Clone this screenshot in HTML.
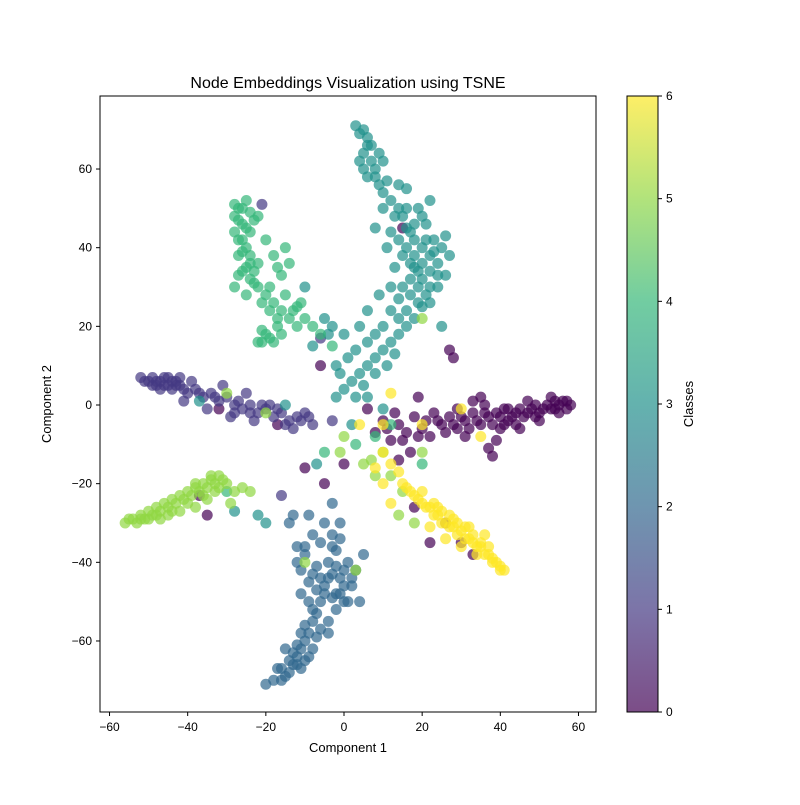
<!DOCTYPE html>
<html><head><meta charset="utf-8"><style>
body{margin:0;background:#fff;font-family:"Liberation Sans",sans-serif}
</style></head><body>
<svg id="chart" width="800" height="800" xmlns="http://www.w3.org/2000/svg">
<defs><linearGradient id="vir" x1="0" y1="1" x2="0" y2="0">
<stop offset="0" stop-color="#440154"/><stop offset="0.1667" stop-color="#443983"/><stop offset="0.3333" stop-color="#31688e"/><stop offset="0.5" stop-color="#21918c"/><stop offset="0.6667" stop-color="#35b779"/><stop offset="0.8333" stop-color="#90d743"/><stop offset="1" stop-color="#fde725"/></linearGradient></defs>
<text x="348" y="88" font-size="16" text-anchor="middle">Node Embeddings Visualization using TSNE</text>
<g id="points"></g>
<rect x="100" y="96" width="496" height="616" fill="none" stroke="#000" stroke-width="1"/>
<g id="xticks"></g>
<g id="yticks"></g>
<text x="348" y="752" font-size="13" text-anchor="middle">Component 1</text>
<text x="0" y="0" font-size="13" text-anchor="middle" transform="translate(51,404) rotate(-90)">Component 2</text>
<rect x="627" y="96" width="31" height="616" fill="url(#vir)" opacity="0.7"/>
<rect x="627" y="96" width="31" height="616" fill="none" stroke="#000"/>
<g id="cbticks"></g>
<text x="0" y="0" font-size="13" text-anchor="middle" transform="translate(693,404) rotate(-90)">Classes</text>
</svg>
<script>
const xTicks=[-60,-40,-20,0,20,40,60];
const yTicks=[-60,-40,-20,0,20,40,60];
const cbTicks=[0,1,2,3,4,5,6];
const classColors=["#440154","#443983","#31688e","#21918c","#35b779","#90d743","#fde725"];
const class0=[[58,0],[56,1],[54,-1],[52,0],[50,-2],[48,-1],[46,-3],[44,-2],[42,-4],[40,-3],[38,-5],[36,-2],[34,-4],[32,-6],[30,-3],[28,-5],[26,-7],[24,-4],[22,-8],[20,-6],[18,-3],[16,-7],[14,-5],[12,-9],[10,-4],[55,-2],[47,1],[41,-1],[35,2],[29,-1],[23,-2],[19,2],[17,-12],[14,-14],[8,-7],[6,-1],[37,-11],[38,-13],[39,-9],[28,12],[27,14],[15,45],[30,-35],[22,-35],[-17,-5],[-32,-1],[-10,-16],[-5,-20],[0,-15],[-37,-23],[-35,-28],[-6,10],[18,-26],[26,-30],[33,-38],[45,-6],[50,-4],[53,2],[57,-1],[31,-8],
[57,1],[55,0],[53,-1],[51,-1],[49,0],[47,-2],[45,-1],[43,-3],[41,-5],[39,-2],[37,-3],[35,-5],[33,-2],[31,-4],[29,-6],[27,-3],[25,-5],[21,-4],[19,-8],[15,-9],[13,-2],[11,-6],[49,-3],[44,-5],[40,-6],[36,0],[33,1],[54,1],[42,-1]];
const class1=[[-52,7],[-50,6],[-48,6],[-46,5],[-45,7],[-44,4],[-42,5],[-40,3],[-38,4],[-36,2],[-34,3],[-32,1],[-30,2],[-28,0],[-26,-1],[-24,0],[-22,-2],[-20,-1],[-18,-3],[-16,-2],[-14,-4],[-12,-3],[-10,-2],[-8,-5],[-43,6],[-47,4],[-41,1],[-35,-1],[-29,-3],[-23,-4],[-19,0],[-13,-6],[-25,3],[-31,5],[-39,6],[-49,5],[-21,51],[-16,-23],[-3,-4],[-6,17],
[-51,6],[-49,7],[-47,6],[-46,7],[-44,6],[-43,5],[-41,4],[-45,5],[-48,5],[-42,7],[-37,3],[-33,2],[-27,1],[-21,0],[-17,-1],[-15,-5],[-11,-4],[-9,-3],[-24,-2],[-28,-2]];
const class2=[[-1,-30],[-3,-33],[-2,-37],[-4,-40],[-3,-43],[-5,-46],[-2,-48],[0,-50],[-1,-44],[1,-40],[3,-42],[5,-38],[-6,-50],[-7,-53],[-8,-55],[-9,-58],[-10,-60],[-11,-62],[-12,-64],[-13,-66],[-14,-68],[-15,-69],[-16,-70],[-18,-70],[-20,-71],[-10,-65],[-12,-61],[-8,-62],[-6,-57],[-4,-55],[-12,-36],[-10,-38],[-11,-42],[-9,-45],[-7,-41],[-13,-28],[-9,-28],[-6,-35],[-4,-58],[-15,-62],[-17,-67],[2,-46],[4,-50],[-2,-52],[-14,-30],[-8,-33],[-5,-30],[-3,-25],[-11,-48],
[0,-46],[-1,-48],[1,-50],[-3,-49],[0,-42],[-2,-41],[-4,-44],[2,-44],[-5,-48],[-7,-47],[-9,-50],[-8,-52],[-10,-56],[-11,-58],[-12,-66],[-13,-63],[-14,-65],[-16,-67],[-11,-67],[-9,-64],[-7,-59],[-12,-40],[-10,-36],[-8,-43],[-6,-44],[-3,-36],[-1,-34]];
const class3=[[3,71],[5,70],[6,68],[7,66],[5,64],[4,62],[8,60],[6,58],[9,56],[10,54],[12,52],[14,50],[15,48],[16,45],[18,42],[20,40],[22,38],[24,36],[25,40],[23,42],[21,46],[19,50],[17,44],[15,38],[13,35],[17,32],[19,30],[21,28],[20,25],[18,22],[16,20],[14,18],[12,16],[10,14],[8,12],[6,10],[4,8],[2,6],[0,4],[-2,2],[4,20],[6,24],[9,28],[12,30],[24,30],[26,33],[26,43],[27,38],[14,56],[16,55],[10,62],[18,35],[22,52],[8,45],[11,40],[-4,18],[-8,15],[-2,10],[6,2],[10,-1],[2,-5],[25,20],[12,24],[0,18],[-10,30],[-20,-30],[-28,-27],[-7,-15],[-15,0],[-37,1],[-22,-28],
[4,69],[6,66],[5,60],[7,62],[9,64],[8,58],[11,57],[10,50],[13,48],[12,44],[14,42],[16,40],[18,38],[17,36],[19,34],[20,32],[22,34],[21,42],[23,39],[20,48],[18,46],[16,50],[15,30],[14,27],[17,28],[19,26],[22,26],[16,24],[14,22],[10,20],[8,18],[6,16],[3,14],[1,12],[-1,8],[5,5],[3,2],[8,8],[11,10],[13,13],[20,36],[24,33],[22,30],[-3,20],[-5,22]];
const class4=[[-27,50],[-25,52],[-28,48],[-26,46],[-24,44],[-28,44],[-25,40],[-27,38],[-24,36],[-26,34],[-24,32],[-22,30],[-20,28],[-18,26],[-16,24],[-14,22],[-12,20],[-20,18],[-22,16],[-18,16],[-15,28],[-16,33],[-18,38],[-20,42],[-23,34],[-25,28],[-28,30],[-10,22],[-8,20],[-6,18],[-3,15],[-26,42],[-22,48],[-12,25],[-17,20],[-14,36],[-15,40],[-5,-12],[3,-10],[8,-8],[12,-5],[-30,-22],[20,-15],
[-26,50],[-28,51],[-24,49],[-27,47],[-25,45],[-23,47],[-27,42],[-26,39],[-24,38],[-25,35],[-27,33],[-23,31],[-21,26],[-19,24],[-17,22],[-21,19],[-19,17],[-16,18],[-13,24],[-11,26],[-19,30],[-17,35],[-22,36],[-21,16]];
const class5=[[-56,-30],[-54,-29],[-52,-28],[-50,-27],[-48,-26],[-46,-25],[-44,-24],[-42,-23],[-40,-22],[-38,-21],[-36,-20],[-34,-19],[-32,-18],[-30,-20],[-28,-22],[-26,-21],[-24,-22],[-42,-27],[-45,-28],[-38,-26],[-35,-24],[-55,-29],[-50,-29],[-47,-27],[-33,-22],[-29,-25],[5,-15],[8,-18],[10,-12],[15,-22],[14,-28],[20,-12],[18,-30],[-10,-40],[3,-42],[20,22],[0,-8],[-20,-2],[-30,3],
[-53,-30],[-51,-29],[-49,-28],[-47,-29],[-45,-26],[-43,-25],[-41,-24],[-39,-23],[-37,-22],[-35,-21],[-33,-20],[-31,-19],[-40,-25],[-44,-27],[-36,-23],[-32,-21],[-48,-28],[-52,-29],[-38,-20],[-34,-18],[7,-14],[12,-18],[-1,-12]];
const class6=[[41,-42],[40,-41],[39,-40],[37,-38],[35,-36],[33,-35],[31,-34],[29,-33],[27,-31],[25,-30],[23,-28],[21,-26],[19,-24],[17,-22],[15,-20],[14,-17],[12,-15],[10,-12],[36,-33],[32,-31],[28,-29],[24,-26],[20,-22],[34,-38],[30,-36],[26,-34],[22,-31],[38,-39],[12,-25],[10,-20],[8,-16],[20,-5],[30,-1],[35,-8],[12,3],[10,-5],[4,-5],
[40,-42],[38,-40],[36,-38],[34,-36],[32,-34],[30,-32],[28,-31],[26,-30],[24,-28],[22,-26],[20,-25],[18,-23],[16,-21],[35,-35],[33,-33],[31,-31],[29,-30],[27,-28],[25,-27],[23,-25],[37,-36]];
const series=[class0,class1,class2,class3,class4,class5,class6];
const NS="http://www.w3.org/2000/svg";
function xs(v){return 344+v*3.908;}
function ys(v){return 405-v*3.933;}
function cs(v){return 712-v*616/6;}
function mk(t,a,p){const e=document.createElementNS(NS,t);for(const k in a)e.setAttribute(k,a[k]);p.appendChild(e);return e;}
const pg=document.getElementById('points');
series.forEach((pts,ci)=>{pts.forEach(p=>{
  const c=mk('circle',{cx:xs(p[0]),cy:ys(p[1]),r:5.5,fill:classColors[ci],'fill-opacity':0.7},pg);
  
  
});});
const xg=document.getElementById('xticks');
xTicks.forEach(t=>{const x=xs(t);
  const l=mk('line',{x1:x,x2:x,y1:712,y2:716,stroke:'#000'},xg);
  
  
  const s=mk('text',{x:x,y:731,'font-size':12,'text-anchor':'middle'},xg);s.textContent=(t<0?'\u2212':'')+Math.abs(t);
  
  });
const yg=document.getElementById('yticks');
yTicks.forEach(t=>{const y=ys(t);
  const l=mk('line',{x1:96,x2:100,y1:y,y2:y,stroke:'#000'},yg);
  
  
  const s=mk('text',{x:92,y:y+4,'font-size':12,'text-anchor':'end'},yg);s.textContent=(t<0?'\u2212':'')+Math.abs(t);
  
  });
const cg=document.getElementById('cbticks');
cbTicks.forEach(t=>{const y=cs(t);
  const l=mk('line',{x1:658,x2:662,y1:y,y2:y,stroke:'#000'},cg);
  
  
  const s=mk('text',{x:666,y:y+4,'font-size':12},cg);s.textContent=t;
  
  });
</script>
</body></html>
